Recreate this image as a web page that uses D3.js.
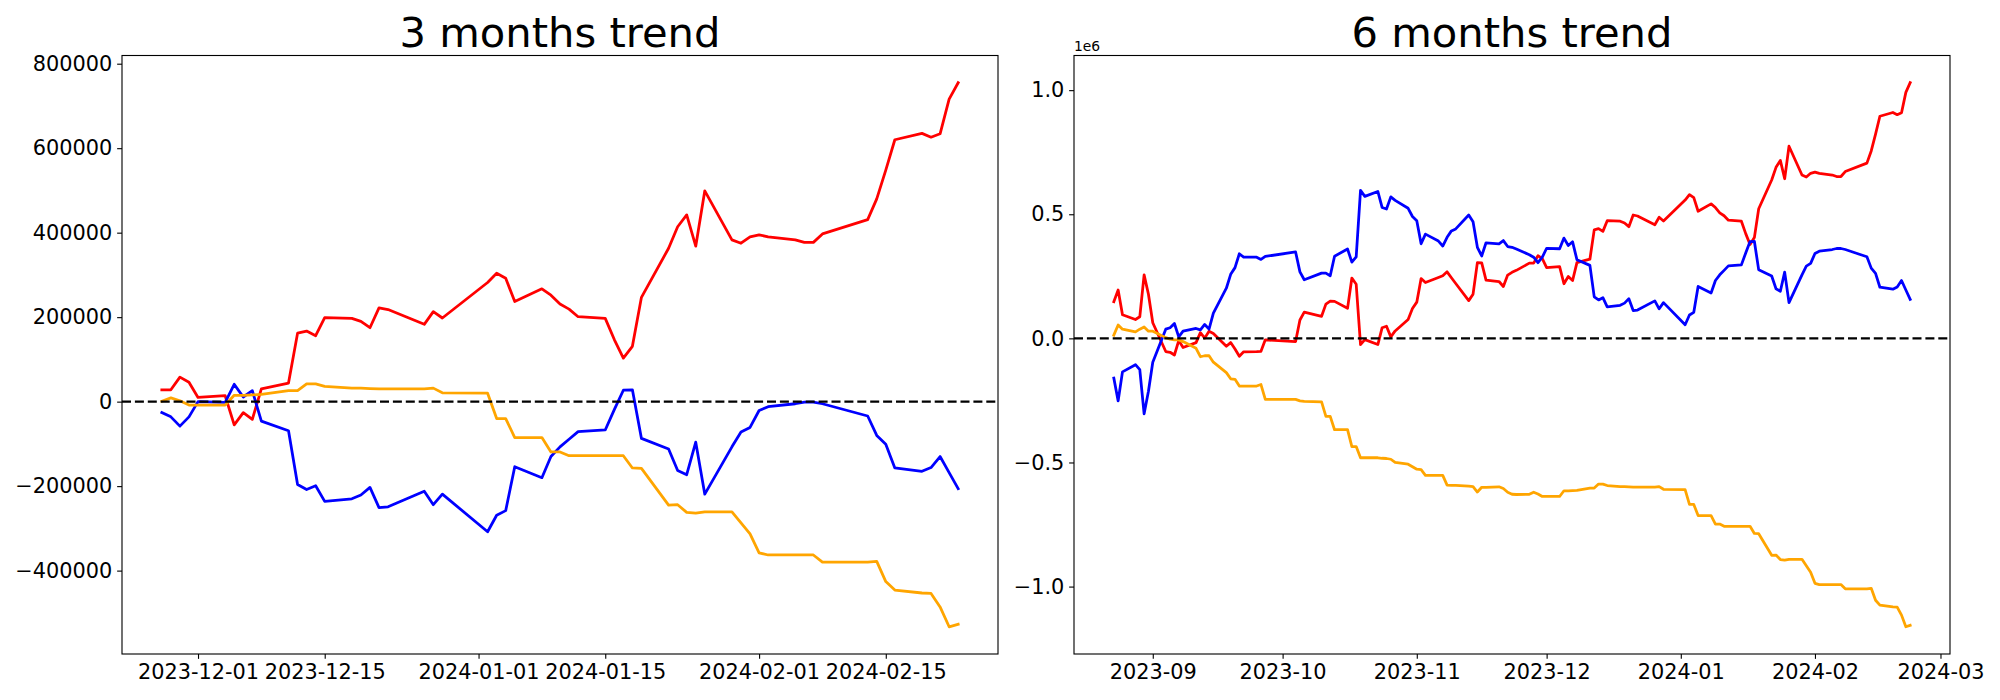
<!DOCTYPE html>
<html>
<head>
<meta charset="utf-8">
<script src="https://cdn.jsdelivr.net/npm/d3@7"></script>
<style>
  html, body { margin: 0; padding: 0; background: #ffffff; }
  svg text { font-family: "DejaVu Sans", sans-serif; fill: #000; }
</style>
</head>
<body>
<svg id="chart" width="2000" height="700"></svg>
<script>
// ---------------- DATA ----------------
// 3 months trend (values in KRW units)
const dates3 = ["2023-11-27","2023-11-28","2023-11-29","2023-11-30","2023-12-01","2023-12-04","2023-12-05","2023-12-06","2023-12-07","2023-12-08","2023-12-11","2023-12-12","2023-12-13","2023-12-14","2023-12-15","2023-12-18","2023-12-19","2023-12-20","2023-12-21","2023-12-22","2023-12-26","2023-12-27","2023-12-28","2024-01-02","2024-01-03","2024-01-04","2024-01-05","2024-01-08","2024-01-09","2024-01-10","2024-01-11","2024-01-12","2024-01-15","2024-01-16","2024-01-17","2024-01-18","2024-01-19","2024-01-22","2024-01-23","2024-01-24","2024-01-25","2024-01-26","2024-01-29","2024-01-30","2024-01-31","2024-02-01","2024-02-02","2024-02-05","2024-02-06","2024-02-07","2024-02-08","2024-02-13","2024-02-14","2024-02-15","2024-02-16","2024-02-19","2024-02-20","2024-02-21","2024-02-22","2024-02-23"];
const red3 = [28000,28000,58000,46000,10000,14000,-55000,-26000,-42000,30000,44000,162000,167000,156000,199000,197000,190000,175000,222000,218000,183000,213000,198000,282000,304000,292000,237000,267000,252000,231000,219000,201000,197000,147000,103000,131000,247000,363000,414000,442000,368000,499000,383000,375000,390000,395000,390000,383000,377000,377000,397000,431000,480000,548000,620000,635000,626000,634000,716000,755000];
const blue3 = [-26000,-36000,-58000,-36000,0,-2000,41000,11000,26000,-46000,-69000,-196000,-208000,-199000,-236000,-230000,-221000,-203000,-251000,-249000,-212000,-244000,-219000,-308000,-269000,-258000,-154000,-180000,-130000,-107000,-89000,-71000,-67000,-19000,27000,28000,-87000,-112000,-163000,-173000,-96000,-219000,-107000,-72000,-61000,-21000,-12000,-5000,-1000,-1000,-5000,-34000,-80000,-101000,-157000,-165000,-156000,-130000,-168000,-206000];
const orange3 = [1000,9000,2000,-8000,-8000,-8000,15000,15000,16000,17000,26000,26000,42000,42000,36000,32000,32000,31000,30000,30000,30000,32000,21000,20000,-40000,-40000,-85000,-85000,-119000,-119000,-128000,-128000,-128000,-128000,-128000,-157000,-158000,-245000,-244000,-262000,-264000,-261000,-261000,-287000,-313000,-358000,-363000,-363000,-363000,-363000,-380000,-380000,-378000,-426000,-446000,-453000,-454000,-486000,-533000,-527000];

// 6 months trend
const dates6 = ["2023-08-23","2023-08-24","2023-08-25","2023-08-28","2023-08-29","2023-08-30","2023-08-31",
"2023-09-01","2023-09-04","2023-09-05","2023-09-06","2023-09-07","2023-09-08","2023-09-11","2023-09-12","2023-09-13","2023-09-14","2023-09-15","2023-09-18","2023-09-19","2023-09-20","2023-09-21","2023-09-22","2023-09-25","2023-09-26","2023-09-27",
"2023-10-04","2023-10-05","2023-10-06","2023-10-10","2023-10-11","2023-10-12","2023-10-13","2023-10-16","2023-10-17","2023-10-18","2023-10-19","2023-10-20","2023-10-23","2023-10-24","2023-10-25","2023-10-26","2023-10-27","2023-10-30","2023-10-31",
"2023-11-01","2023-11-02","2023-11-03","2023-11-06","2023-11-07","2023-11-08","2023-11-09","2023-11-10","2023-11-13","2023-11-14","2023-11-15","2023-11-16","2023-11-17","2023-11-20","2023-11-21","2023-11-22","2023-11-23","2023-11-24","2023-11-27","2023-11-28","2023-11-29","2023-11-30",
"2023-12-01","2023-12-04","2023-12-05","2023-12-06","2023-12-07","2023-12-08","2023-12-11","2023-12-12","2023-12-13","2023-12-14","2023-12-15","2023-12-18","2023-12-19","2023-12-20","2023-12-21","2023-12-22","2023-12-26","2023-12-27","2023-12-28",
"2024-01-02","2024-01-03","2024-01-04","2024-01-05","2024-01-08","2024-01-09","2024-01-10","2024-01-11","2024-01-12","2024-01-15","2024-01-16","2024-01-17","2024-01-18","2024-01-19","2024-01-22","2024-01-23","2024-01-24","2024-01-25","2024-01-26","2024-01-29","2024-01-30","2024-01-31",
"2024-02-01","2024-02-02","2024-02-05","2024-02-06","2024-02-07","2024-02-08","2024-02-13","2024-02-14","2024-02-15","2024-02-16","2024-02-19","2024-02-20","2024-02-21","2024-02-22","2024-02-23"];
const red6 = [148000,195000,95000,76000,87000,256000,178000,
63000,-53000,-56000,-67000,-9000,-37000,-17000,23000,1000,29000,20000,-32000,-17000,-43000,-72000,-54000,-53000,-52000,-6000,
-13000,74000,106000,89000,138000,150000,149000,121000,243000,218000,-25000,-5000,-25000,43000,49000,6000,30000,76000,120000,
146000,241000,225000,245000,252000,268000,244000,221000,152000,178000,305000,304000,235000,229000,209000,255000,266000,274000,303000,303000,333000,321000,
285000,289000,220000,249000,233000,305000,319000,437000,442000,431000,474000,472000,465000,450000,497000,493000,458000,488000,473000,
557000,579000,567000,512000,542000,527000,506000,494000,476000,472000,422000,378000,406000,522000,638000,689000,717000,643000,774000,658000,650000,665000,
670000,665000,658000,652000,652000,672000,706000,755000,823000,895000,910000,901000,909000,991000,1030000];
const blue6 = [-160000,-252000,-135000,-106000,-126000,-304000,-213000,
-96000,37000,43000,60000,6000,29000,40000,34000,56000,37000,102000,202000,258000,285000,341000,327000,327000,318000,330000,
348000,268000,236000,263000,263000,252000,331000,360000,307000,328000,596000,572000,592000,527000,521000,570000,556000,524000,491000,
474000,381000,420000,392000,372000,407000,433000,441000,497000,470000,367000,332000,385000,381000,394000,370000,367000,360000,337000,327000,305000,327000,
363000,361000,404000,374000,389000,317000,294000,167000,155000,164000,127000,133000,142000,160000,112000,114000,151000,119000,144000,
55000,94000,105000,209000,183000,233000,256000,274000,292000,296000,344000,390000,391000,276000,251000,200000,190000,267000,144000,256000,291000,302000,
342000,351000,358000,362000,362000,358000,329000,283000,262000,206000,198000,207000,233000,195000,157000];
const orange6 = [13000,54000,37000,26000,37000,46000,29000,
29000,3000,-3000,-6000,-6000,-13000,-40000,-74000,-70000,-70000,-96000,-138000,-163000,-165000,-192000,-192000,-192000,-186000,-246000,
-246000,-252000,-254000,-256000,-314000,-314000,-368000,-368000,-436000,-436000,-481000,-481000,-481000,-483000,-484000,-487000,-500000,-507000,-517000,
-527000,-529000,-552000,-552000,-552000,-591000,-592000,-592000,-595000,-597000,-619000,-600000,-600000,-598000,-605000,-620000,-628000,-629000,-628000,-620000,-627000,-637000,
-637000,-637000,-614000,-614000,-613000,-612000,-603000,-603000,-587000,-587000,-593000,-597000,-597000,-598000,-599000,-599000,-599000,-597000,-608000,
-609000,-669000,-669000,-714000,-714000,-748000,-748000,-757000,-757000,-757000,-757000,-757000,-786000,-787000,-874000,-873000,-891000,-893000,-890000,-890000,-916000,-942000,
-987000,-992000,-992000,-992000,-992000,-1009000,-1009000,-1007000,-1055000,-1075000,-1082000,-1083000,-1115000,-1162000,-1156000];

const yTicks3 = [-400000,-200000,0,200000,400000,600000,800000];
const xTicks3 = ["2023-12-01","2023-12-15","2024-01-01","2024-01-15","2024-02-01","2024-02-15"];
const yTicks6 = [-1000000,-500000,0,500000,1000000];
const xTicks6 = ["2023-09-01","2023-10-01","2023-11-01","2023-12-01","2024-01-01","2024-02-01","2024-03-01"];
const titles = ["3 months trend","6 months trend"];
const seriesColors = ["#ff0000","#0000ff","#ffa500"];

// ---------------- DRAW ----------------
const svg = d3.select("#chart");
const parse = d3.utcParse("%Y-%m-%d");
const PT = 100/72;
const TOP = 55.5, BOTTOM = 654;

function pad(ext) {
  const r = ext[1] - ext[0];
  return [ext[0] - 0.05*r, ext[1] + 0.05*r];
}

function panel(opts) {
  const {x0, x1, dates, series, xTicks, xFmt, yTicks, yFmt, title, offsetText} = opts;
  const g = svg.append("g");
  const dts = dates.map(parse);
  const tExt = d3.extent(dts).map(d => +d);
  const tDom = pad(tExt).map(v => new Date(v));
  const x = d3.scaleUtc().domain(tDom).range([x0, x1]);
  const allV = series.flat();
  const y = d3.scaleLinear().domain(pad(d3.extent(allV))).range([BOTTOM, TOP]);

  // lines
  const line = d3.line().x((d,i) => x(dts[i])).y(d => y(d));
  series.forEach((s, k) => {
    g.append("path")
      .attr("d", line(s))
      .attr("fill", "none")
      .attr("stroke", seriesColors[k])
      .attr("stroke-width", 2*PT)
      .attr("stroke-linejoin", "round")
      .attr("stroke-linecap", "square");
  });

  // zero line
  g.append("line")
    .attr("x1", x0).attr("x2", x1)
    .attr("y1", y(0)).attr("y2", y(0))
    .attr("stroke", "#000")
    .attr("stroke-width", 2.4)
    .attr("stroke-dasharray", "9,3.9");

  // axes
  const xAxis = d3.axisBottom(x)
    .tickValues(xTicks.map(parse))
    .tickFormat(d3.utcFormat(xFmt))
    .tickSizeInner(3.5*PT).tickSizeOuter(0).tickPadding(3.5*PT);
  const gx = g.append("g").attr("transform", `translate(0,${BOTTOM})`).call(xAxis);
  const yAxis = d3.axisLeft(y)
    .tickValues(yTicks)
    .tickFormat(yFmt)
    .tickSizeInner(3.5*PT).tickSizeOuter(0).tickPadding(3.5*PT);
  const gy = g.append("g").attr("transform", `translate(${x0},0)`).call(yAxis);
  [gx, gy].forEach(a => {
    a.select(".domain").remove();
    a.selectAll(".tick line").attr("stroke", "#000").attr("stroke-width", 0.8*PT);
    a.selectAll(".tick text").attr("font-size", 15*PT + "px")
      .attr("font-family", "DejaVu Sans").attr("fill", "#000");
  });

  // frame
  g.append("rect")
    .attr("x", x0).attr("y", TOP)
    .attr("width", x1 - x0).attr("height", BOTTOM - TOP)
    .attr("fill", "none").attr("stroke", "#000").attr("stroke-width", 0.8*PT);

  // title
  g.append("text")
    .attr("x", (x0 + x1)/2).attr("y", TOP - 6*PT)
    .attr("text-anchor", "middle")
    .attr("font-size", 30*PT + "px")
    .text(title);

  if (offsetText) {
    g.append("text")
      .attr("x", x0).attr("y", TOP - 4.8)
      .attr("font-size", 10*PT + "px")
      .text(offsetText);
  }
}

panel({
  x0: 122, x1: 998,
  dates: dates3, series: [red3, blue3, orange3],
  xTicks: xTicks3, xFmt: "%Y-%m-%d",
  yTicks: yTicks3, yFmt: d3.format("d"),
  title: titles[0]
});

panel({
  x0: 1074, x1: 1950,
  dates: dates6, series: [red6, blue6, orange6],
  xTicks: xTicks6, xFmt: "%Y-%m",
  yTicks: yTicks6, yFmt: d => d3.format(".1f")(d/1e6),
  title: titles[1], offsetText: "1e6"
});
</script>
</body>
</html>
